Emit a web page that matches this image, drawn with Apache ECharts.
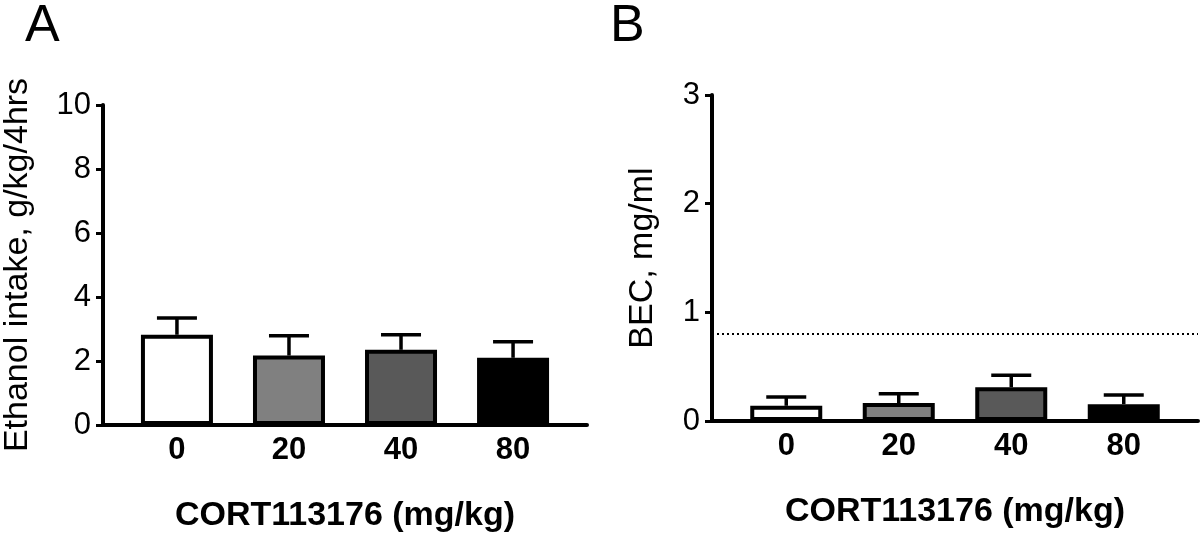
<!DOCTYPE html>
<html>
<head>
<meta charset="UTF-8">
<title>CORT113176 ethanol intake and BEC</title>
<script src="https://cdn.jsdelivr.net/npm/echarts@6/dist/echarts.min.js"></script>
<style>
body { margin: 0; padding: 0; background: #fff; }
#main { width: 1200px; height: 538px; }
</style>
</head>
<body>
<div id="main"></div>
<script>
// doses (x categories) and bar fills
var doses = ['0', '20', '40', '80'];
var barColors = ['#ffffff', '#808080', '#595959', '#000000'];

// panel A: ethanol intake g/kg/4hrs, mean and SEM
var intakeMean = [2.82, 2.17, 2.35, 2.10];
var intakeSem = [0.52, 0.62, 0.47, 0.50];

// panel B: BEC mg/ml, mean and SEM
var becMean = [0.14, 0.165, 0.31, 0.155];
var becSem = [0.08, 0.085, 0.11, 0.085];
var becLine = 0.8;

var font = "'Liberation Sans', Arial, Helvetica, sans-serif";

function barData(means) {
	return means.map(function (v, i) {
		return { value: [i, v], itemStyle: { color: barColors[i] } };
	});
}
function errData(means, sems) {
	return means.map(function (v, i) { return [i, v, v + sems[i]]; });
}
function renderErr(params, api) {
	var base = api.coord([api.value(0), api.value(1)]);
	var top = api.coord([api.value(0), api.value(2)]);
	var half = 20;
	var style = { stroke: '#000', lineWidth: 3.5, fill: null };
	return {
		type: 'group',
		children: [
			{ type: 'line', shape: { x1: base[0], y1: base[1], x2: top[0], y2: top[1] }, style: style },
			{ type: 'line', shape: { x1: top[0] - half, y1: top[1], x2: top[0] + half, y2: top[1] }, style: style }
		]
	};
}

function xAxisFor(idx) {
	return {
		gridIndex: idx,
		type: 'value',
		min: -0.66,
		max: 3.66,
		splitLine: { show: false },
		axisTick: { show: false },
		axisLine: { show: true, onZero: false, lineStyle: { color: '#000', width: 4 } },
		axisLabel: {
			customValues: [0, 1, 2, 3],
			formatter: function (v) { return doses[Math.round(v)]; },
			color: '#000', fontFamily: font, fontWeight: 'bold', fontSize: 31, margin: 10
		},
		name: 'CORT113176 (mg/kg)',
		nameLocation: 'middle',
		nameGap: 74,
		nameTextStyle: { color: '#000', fontFamily: font, fontWeight: 'bold', fontSize: 34 }
	};
}
function yAxisFor(idx, max, interval, title, gap) {
	return {
		gridIndex: idx,
		type: 'value',
		min: 0,
		max: max,
		interval: interval,
		splitLine: { show: false },
		axisLine: { show: true, onZero: false, lineStyle: { color: '#000', width: 4 } },
		axisTick: { show: true, length: 7, lineStyle: { color: '#000', width: 3 } },
		axisLabel: { color: '#000', fontFamily: font, fontSize: 31, margin: 12 },
		name: title,
		nameLocation: 'middle',
		nameGap: gap,
		nameTextStyle: { color: '#000', fontFamily: font, fontSize: 34 }
	};
}

var chart = echarts.init(document.getElementById('main'));
var option = {
	backgroundColor: '#fff',
	animation: false,
	title: [
		{ text: 'A', left: 20, top: -4, textStyle: { fontFamily: font, fontWeight: 'normal', fontSize: 52, color: '#000' } },
		{ text: 'B', left: 605, top: -4, textStyle: { fontFamily: font, fontWeight: 'normal', fontSize: 52, color: '#000' } }
	],
	grid: [
		{ left: 103, right: 613, top: 105, bottom: 110 },
		{ left: 712, right: 2, top: 95, bottom: 117 }
	],
	xAxis: [xAxisFor(0), xAxisFor(1)],
	yAxis: [
		yAxisFor(0, 10, 2, 'Ethanol intake, g/kg/4hrs', 68),
		yAxisFor(1, 3, 1, 'BEC, mg/ml', 52)
	],
	series: [
		{
			type: 'bar', xAxisIndex: 0, yAxisIndex: 0, barWidth: 72,
			itemStyle: { borderColor: '#000', borderWidth: 4 },
			data: barData(intakeMean)
		},
		{
			type: 'custom', xAxisIndex: 0, yAxisIndex: 0,
			renderItem: renderErr, data: errData(intakeMean, intakeSem), z: 1
		},
		{
			type: 'bar', xAxisIndex: 1, yAxisIndex: 1, barWidth: 72,
			itemStyle: { borderColor: '#000', borderWidth: 4 },
			data: barData(becMean),
			markLine: {
				silent: true, symbol: 'none', label: { show: false },
				lineStyle: { color: '#000', type: [2, 3], width: 2 },
				data: [{ yAxis: becLine }]
			}
		},
		{
			type: 'custom', xAxisIndex: 1, yAxisIndex: 1,
			renderItem: renderErr, data: errData(becMean, becSem), z: 1
		}
	]
};
chart.setOption(option);
</script>
</body>
</html>
